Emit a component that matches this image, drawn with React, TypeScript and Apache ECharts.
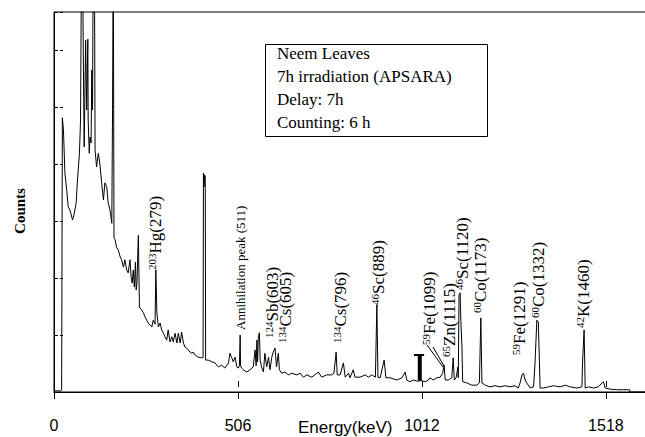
import React, { useEffect, useRef } from "react";
import * as echarts from "echarts";

// Gamma spectrum: energy (keV) and counts (1 y tick = 1000)
const energyKeV = [
  0, 3, 18, 21, 23, 26, 30, 35, 39, 44, 51, 55, 61, 64, 70, 73, 76, 78, 81, 83,
  87, 90, 93, 94, 97, 99, 102, 104, 106, 108, 111, 113, 117, 122, 127, 131, 136, 140, 145, 149,
  154, 159, 161, 163, 165, 168, 172, 177, 182, 186, 191, 195, 200, 204, 209, 212, 215, 218, 221, 224,
  226, 228, 232, 235, 241, 246, 250, 255, 259, 264, 269, 273, 278, 280, 283, 287, 292, 296, 301, 305,
  310, 314, 319, 324, 328, 333, 338, 342, 347, 351, 356, 360, 365, 369, 374, 379, 383, 388, 397, 406,
  410, 411, 412, 413, 414, 416, 417, 424, 434, 443, 452, 461, 470, 480, 484, 489, 493, 498, 503, 507, 510, 512, 513,
  516, 521, 530, 539, 548, 553, 556, 558, 560, 562, 565, 567, 571, 576, 580, 585, 590, 594, 599, 603,
  608, 612, 617, 620, 626, 635, 645, 654, 668, 677, 686, 695, 709, 723, 727, 736, 750, 764, 770, 776,
  779, 787, 796, 801, 810, 814, 823, 828, 842, 856, 865, 874, 884, 888, 891, 897, 908, 913, 924, 943,
  957, 966, 970, 979, 988, 999, 1010, 1021, 1030, 1034, 1043, 1053, 1062, 1069, 1073, 1076, 1085, 1094, 1098, 1101,
  1106, 1111, 1112, 1114, 1117, 1119, 1122, 1124, 1135, 1149, 1163, 1170, 1174, 1177, 1186, 1199, 1213, 1227, 1241, 1254,
  1268, 1277, 1282, 1287, 1291, 1296, 1300, 1310, 1319, 1323, 1328, 1332, 1335, 1337, 1346, 1360, 1374, 1392, 1406, 1420,
  1438, 1452, 1454, 1458, 1461, 1470, 1484, 1497, 1511, 1516, 1530, 1548, 1566, 1580, 1583, 1584, 1642,
];
const counts = [
  20, 20, 20, 30, 4810, 4600, 3840, 3540, 3250, 3190, 3020, 3110, 3320, 3670, 4190, 4770, 8000, 8000, 5650, 4300,
  6170, 4950, 6190, 4770, 4190, 4470, 4370, 5650, 4950, 8000, 8000, 4250, 3950, 4190, 3950, 3670, 3370, 3670, 3600, 3320,
  3190, 2960, 4950, 8000, 2700, 2670, 2540, 2490, 2370, 2320, 2190, 2320, 2140, 2090, 2320, 2020, 1910, 2140, 1840, 2280,
  1790, 1880, 2750, 1490, 1440, 1390, 1320, 1260, 1210, 1180, 1140, 1260, 1190, 2140, 1390, 1140, 1210, 1090, 1030, 970,
  910, 1090, 880, 970, 880, 1030, 860, 1030, 860, 1050, 860, 790, 770, 740, 700, 680, 700, 650, 610, 600,
  600, 3840, 3700, 3600, 3810, 3790, 560, 560, 530, 510, 440, 470, 420, 510, 680, 600, 530, 610, 440, 420, 460, 1000, 460,
  420, 390, 350, 390, 440, 740, 460, 910, 530, 970, 1040, 560, 440, 350, 680, 440, 610, 390, 610, 700,
  770, 440, 680, 390, 330, 350, 300, 330, 300, 330, 260, 300, 260, 330, 350, 260, 300, 300, 330, 700,
  300, 300, 510, 260, 330, 250, 390, 260, 260, 300, 260, 300, 260, 1530, 260, 250, 560, 250, 250, 210,
  250, 350, 210, 180, 210, 190, 200, 180, 210, 250, 210, 250, 260, 330, 470, 210, 210, 250, 600, 210,
  250, 440, 250, 1700, 1740, 1260, 790, 180, 160, 120, 120, 160, 1300, 160, 120, 90, 110, 90, 110, 90,
  110, 70, 160, 300, 330, 210, 160, 70, 90, 510, 1260, 1230, 560, 70, 70, 90, 110, 90, 120, 90,
  70, 90, 560, 1090, 70, 90, 70, 90, 180, 70, 50, 40, 40, 40, 40, 0, 0,
];

// Region-of-interest marker near 1006 keV
const roiCapKeV = [990, 1018];
const roiCapCounts = [649, 649];
const roiStemKeV = [1006, 1006];
const roiStemCounts = [649, 200];

const xTicks = [0, 506, 1012, 1518];

const peakMass = ["203", "", "124", "134", "134", "46", "59", "65", "46", "60", "59", "60", "42"];
const peakName = [
  "Hg(279)", "Annihilation peak (511)", "Sb(603)", "Cs(605)", "Cs(796)", "Sc(889)", "Fe(1099)",
  "Zn(1115)", "Sc(1120)", "Co(1173)", "Fe(1291)", "Co(1332)", "K(1460)",
];

const infoLines = ["Neem Leaves", "7h irradiation (APSARA)", "Delay: 7h", "Counting: 6 h"];

export default function App() {
  const ref = useRef<HTMLDivElement>(null);

  useEffect(() => {
    if (!ref.current) return;
    const chart = echarts.init(ref.current, null, { renderer: "svg" });
    const serif = '"Liberation Serif", "Times New Roman", serif';
    const sans = '"Liberation Sans", Arial, sans-serif';

    const spectrum = energyKeV.map((e, i) => [e, counts[i]]);
    const roiCap = roiCapKeV.map((e, i) => [e, roiCapCounts[i]]);
    const roiStem = roiStemKeV.map((e, i) => [e, roiStemCounts[i]]);

    // inner tick marks (short dashes above the axis, with a gap)
    const innerTicks = xTicks.map((v) => [
      { coord: [v, 88] },
      { coord: [v, 193] },
    ]);

    const labelX = [155.5, 240, 272.5, 285, 340, 378.5, 429, 449, 462.5, 480, 519.5, 538.5, 583.5];
    const labelBottom = [270, 330, 338, 343, 343, 305, 345, 357, 290, 313, 355, 318, 328];

    const labelGraphics = peakName.map((name, i) => {
      const isAnn = peakMass[i] === "";
      return {
        type: "text",
        x: labelX[i],
        y: labelBottom[i],
        rotation: Math.PI / 2,
        style: {
          text: isAnn ? name : `{s|${peakMass[i]}}{m|${name}}`,
          font: isAnn ? `13px ${serif}` : `17px ${serif}`,
          rich: isAnn
            ? undefined
            : {
                s: { fontSize: 11, fontFamily: serif, verticalAlign: "top", lineHeight: 18, fill: "#000" },
                m: { fontSize: 17, fontFamily: serif, lineHeight: 18, fill: "#000" },
              },
          fill: "#000",
          align: "left",
          verticalAlign: "middle",
        },
      };
    });

    const infoGraphics = infoLines.map((t, i) => ({
      type: "text",
      x: 277,
      y: 53 + i * 23,
      z: 11,
      style: { text: t, font: `17px ${serif}`, fill: "#000", align: "left", verticalAlign: "middle" },
    }));

    const option = {
      animation: false,
      backgroundColor: "#fff",
      grid: {
        left: 54,
        top: 12,
        right: -6,
        bottom: 45,
        show: true,
        borderColor: "#000",
        borderWidth: 1,
        containLabel: false,
        outerBoundsMode: "none",
      },
      xAxis: [
        {
          type: "value",
          min: 0,
          max: 1642,
          interval: 506,
          axisLine: { show: true, onZero: false, lineStyle: { color: "#000", width: 1 } },
          axisTick: { show: false },
          axisLabel: { show: false },
          splitLine: { show: false },
        },
        {
          type: "value",
          position: "bottom",
          offset: 8,
          min: 0,
          max: 1642,
          interval: 506,
          axisLine: { show: false },
          axisTick: { show: true, inside: false, length: 7, lineStyle: { color: "#000", width: 1 } },
          axisLabel: {
            show: true,
            margin: 17,
            color: "#000",
            fontFamily: sans,
            fontSize: 16,
            showMaxLabel: false,
            formatter: (v: number) => (xTicks.indexOf(v) >= 0 ? String(v) : ""),
          },
          splitLine: { show: false },
        },
      ],
      yAxis: {
        type: "value",
        min: 0,
        max: 6667,
        interval: 1000,
        axisLine: { show: true, lineStyle: { color: "#000", width: 1 } },
        axisTick: { show: true, inside: true, length: 9, lineStyle: { color: "#000", type: [4, 2] } },
        axisLabel: { show: false },
        splitLine: { show: false },
      },
      series: [
        {
          type: "line",
          data: spectrum,
          xAxisIndex: 0,
          showSymbol: false,
          symbol: "none",
          clip: true,
          lineStyle: { color: "#000", width: 1 },
          silent: true,
          markLine: {
            silent: true,
            symbol: "none",
            label: { show: false },
            lineStyle: { color: "#000", width: 1, type: "solid" },
            data: innerTicks,
          },
        },
        {
          type: "line",
          data: roiCap,
          xAxisIndex: 0,
          symbol: "none",
          lineStyle: { color: "#000", width: 2 },
          silent: true,
        },
        {
          type: "line",
          data: roiStem,
          xAxisIndex: 0,
          symbol: "none",
          lineStyle: { color: "#000", width: 4 },
          silent: true,
        },
      ],
      graphic: [
        {
          type: "rect",
          z: 10,
          shape: { x: 265.5, y: 44.5, width: 222, height: 92 },
          style: { fill: "#fff", stroke: "#000", lineWidth: 1 },
        },
        ...infoGraphics,
        ...labelGraphics,
        {
          type: "line",
          shape: { x1: 427, y1: 345, x2: 443, y2: 367 },
          style: { stroke: "#000", lineWidth: 1 },
        },
        {
          type: "line",
          shape: { x1: 433, y1: 347, x2: 444, y2: 366 },
          style: { stroke: "#000", lineWidth: 1 },
        },
        {
          type: "text",
          x: 20,
          y: 211,
          rotation: Math.PI / 2,
          style: {
            text: "Counts",
            font: `bold 15px ${serif}`,
            fill: "#000",
            align: "center",
            verticalAlign: "middle",
          },
        },
        {
          type: "text",
          x: 298,
          y: 419,
          style: {
            text: "Energy(keV)",
            font: `17px ${sans}`,
            fill: "#000",
            align: "left",
            verticalAlign: "top",
          },
        },
      ],
    };

    chart.setOption(option as any);
    return () => chart.dispose();
  }, []);

  return (
    <div
      ref={ref}
      style={{ position: "fixed", left: 0, top: 0, width: 645, height: 437, background: "#fff" }}
    />
  );
}
